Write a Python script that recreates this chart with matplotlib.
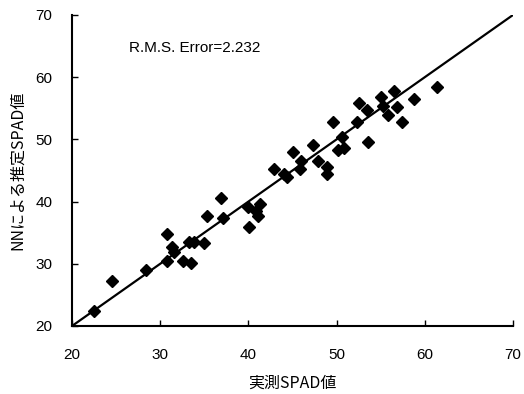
import matplotlib
matplotlib.use("Agg")
import matplotlib.pyplot as plt

measured = [22.5, 24.5, 28.4, 30.8, 30.8, 31.3, 31.6, 32.6, 33.5, 33.3, 33.8, 35.0,
            35.3, 36.9, 37.1, 40.0, 40.1, 40.9, 41.1, 41.3, 42.9, 44.0, 44.4, 45.1,
            45.9, 46.0, 47.3, 47.9, 48.9, 48.9, 49.6, 50.2, 50.8, 50.6, 52.3, 52.5,
            53.5, 53.6, 55.0, 55.3, 55.8, 56.5, 56.9, 57.4, 58.8, 61.4]
estimated = [22.4, 27.2, 29.0, 34.8, 30.5, 32.7, 31.9, 30.5, 30.1, 33.5, 33.5, 33.3,
             37.7, 40.6, 37.4, 39.1, 35.9, 38.5, 37.7, 39.6, 45.2, 44.4, 44.0, 48.0,
             45.2, 46.5, 49.1, 46.5, 45.6, 44.4, 52.8, 48.3, 48.6, 50.4, 52.8, 55.9,
             54.7, 49.6, 56.8, 55.4, 53.9, 57.8, 55.2, 52.8, 56.5, 58.4]
rms_text = "R.M.S. Error=2.232"
ticks = [20, 30, 40, 50, 60, 70]

plt.rcParams['font.family'] = ['Liberation Sans', 'Noto Sans CJK JP', 'DejaVu Sans']

fig = plt.figure(figsize=(5.24, 3.94), dpi=100)
ax = fig.add_axes([0.1374, 0.1726, 0.8416, 0.7894])

ax.plot([20, 70], [20, 70], color='black', lw=1.6, zorder=2)
ax.plot(measured, estimated, linestyle='none', marker='D', markersize=6,
        color='black', zorder=3)

ax.set_xlim(20, 70)
ax.set_ylim(20, 70)
ax.set_xticks(ticks)
ax.set_yticks(ticks)
ax.tick_params(direction='in', length=4, width=1, labelsize=11)
ax.tick_params(axis='x', pad=16)
ax.tick_params(axis='y', pad=14)
ax.spines['top'].set_visible(False)
ax.spines['right'].set_visible(False)
ax.spines['left'].set_linewidth(1.5)
ax.spines['bottom'].set_linewidth(1.5)

ax.text(0.13, 0.895, rms_text, transform=ax.transAxes, fontsize=11,
        va='center', ha='left')

jp = ['Noto Sans CJK JP', 'Liberation Sans']
ax.set_xlabel('実測SPAD値', fontsize=11.5, family=jp, labelpad=9)
ax.set_ylabel('NNによる推定SPAD値', fontsize=11.5, family=jp, labelpad=7)

fig.savefig('out.png', dpi=100)
